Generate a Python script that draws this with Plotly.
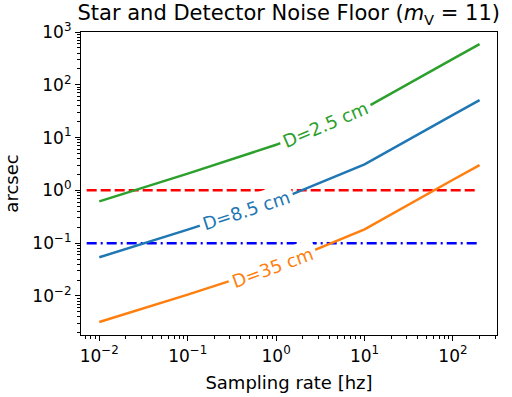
import numpy as np
import plotly.graph_objects as go

# Data
rate_hz = [0.01, 0.1, 1, 10, 100, 200]
noise_d25 = [0.62, 2.08, 7.3, 35.8, 310, 590]      # D=2.5 cm (green)
noise_d85 = [0.054, 0.18, 0.63, 3.1, 27, 51]       # D=8.5 cm (blue)
noise_d35 = [0.0032, 0.0106, 0.037, 0.183, 1.59, 3.0]  # D=35 cm (orange)

floor_x = [0.0072, 186]
floor_red = [1.0, 1.0]
floor_blue = [0.1, 0.1]

series = [
    ("D=2.5 cm", noise_d25, "#2ca02c", 0.56, -23),
    ("D=8.5 cm", noise_d85, "#1f77b4", -0.34, -18),
    ("D=35 cm", noise_d35, "#ff7f0e", -0.04, -20),
]

FONT = "DejaVu Sans"

fig = go.Figure()
fig.add_trace(go.Scatter(x=floor_x, y=floor_red, mode="lines",
                         line=dict(color="#ff0000", width=2.5, dash="10px,4px"), showlegend=False))
fig.add_trace(go.Scatter(x=floor_x, y=floor_blue, mode="lines",
                         line=dict(color="#0000ff", width=2.5, dash="10px,4px,2px,4px"), showlegend=False))

annotations = []
for name, ys, col, lx, ang in series:
    fig.add_trace(go.Scatter(x=rate_hz, y=ys, mode="lines",
                             line=dict(color=col, width=2.5), showlegend=False))
    ly = np.interp(lx, np.log10(rate_hz), np.log10(ys))
    annotations.append(dict(x=lx, y=ly, xref="x", yref="y", text=name, showarrow=False,
                            textangle=ang, bgcolor="white", borderpad=3,
                            font=dict(family=FONT, size=18, color=col)))

xt = [0.01, 0.1, 1, 10, 100]
xtt = ["10<sup>−2</sup>", "10<sup>−1</sup>", "10<sup>0</sup>", "10<sup>1</sup>", "10<sup>2</sup>"]
yt = [0.01, 0.1, 1, 10, 100, 1000]
ytt = ["10<sup>−2</sup>", "10<sup>−1</sup>", "10<sup>0</sup>", "10<sup>1</sup>", "10<sup>2</sup>", "10<sup>3</sup>"]

x_minor = [m * 10.0 ** k for k in range(-3, 3) for m in range(2, 10)]
y_minor = [m * 10.0 ** k for k in range(-3, 3) for m in range(2, 10)]


def axis_style(minor_vals):
    return dict(showline=True, linecolor="black", linewidth=1.2, mirror=True,
                ticks="outside", ticklen=5, tickwidth=1.2, tickcolor="black",
                showgrid=False, zeroline=False, automargin=False,
                tickfont=dict(family=FONT, size=17, color="black"),
                minor=dict(tickvals=minor_vals, ticks="outside", ticklen=2.5, tickwidth=0.9,
                           tickcolor="black", showgrid=False))


fig.update_layout(
    width=512, height=397,
    margin=dict(l=81, r=15, t=32, b=62),
    paper_bgcolor="white", plot_bgcolor="white",
    title=dict(text="Star and Detector Noise Floor (<i>m</i><sub>V</sub> = 11)",
               x=0.564, xanchor="center", y=0.967, yanchor="middle",
               font=dict(family=FONT, size=21, color="black")),
    xaxis=dict(type="log", range=[-2.207, 2.498], tickvals=xt, ticktext=xtt,
               title=dict(text="Sampling rate [hz]", font=dict(family=FONT, size=18, color="black"),
                          standoff=11),
               **axis_style(x_minor)),
    yaxis=dict(type="log", range=[-2.74, 3.0], tickvals=yt, ticktext=ytt,
               title=dict(text="arcsec", font=dict(family=FONT, size=18, color="black"),
                          standoff=9),
               **axis_style(y_minor)),
    annotations=annotations,
)

fig.write_html("out.html", config={"displayModeBar": False},
               post_script="document.body.style.margin='0px';")
